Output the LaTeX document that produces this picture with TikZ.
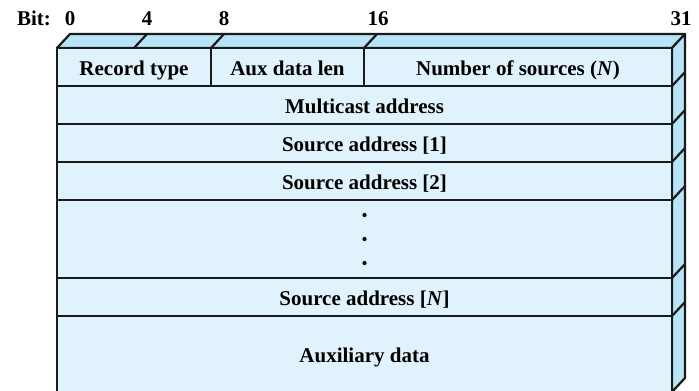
\documentclass[tikz,border=0pt]{standalone}
\usepackage{fontspec}
\setmainfont{Liberation Serif}
\usepackage{tikz}
\usetikzlibrary{positioning}
\definecolor{pFront}{HTML}{E0F2FC}
\definecolor{pSide}{HTML}{B8E4F8}
\definecolor{pLine}{HTML}{1A1A1A}
\tikzset{
 field/.style={draw=pLine, fill=pFront, line width=2.2pt, inner sep=0pt, outer sep=0pt, anchor=north west, text height=16pt, text depth=0pt, font=\fontsize{21}{25}\selectfont\bfseries, text=black},
 bitlbl/.style={font=\fontsize{21}{25}\selectfont\bfseries, inner sep=0pt, text height=14pt, text depth=0pt, text=black},
 face/.style={draw=pLine, fill=pSide, line width=2.2pt, line join=round}
}
\newcommand{\pfield}[6]{%
 \node[field, minimum width=#3pt, minimum height=#4pt] (#5) at (#1,#2) {#6};}

\begin{document}
\begin{tikzpicture}[x=1pt, y=-1pt]
\useasboundingbox (0,0) rectangle (699,391);
% bit ruler
\node[bitlbl] (bitword) at (34,18) {Bit:};
\foreach \lx/\t [count=\i] in {70/0,147/4,224/8,378/16,681/31}
 \node[bitlbl] (bit\i) at (\lx,18) {\t};
% top and side faces
\draw[face] (57,48) -- (70,34) -- (685,34) -- (672,48) -- cycle;
\draw[face] (672,48) -- (685,34) -- (685,378) -- (672,392) -- cycle;
\foreach \bx in {134,211,364}
 \draw[pLine, line width=2.2pt] (\bx,48) -- (\bx+13,34);
% fields
\pfield{57}{48}{154}{38}{rtype}{Record type}
\pfield{211}{48}{153}{38}{auxlen}{Aux data len}
\pfield{364}{48}{308}{38}{nsrc}{Number of sources (\textit{N})}
\pfield{57}{86}{615}{38}{mcast}{Multicast address}
\pfield{57}{124}{615}{38}{src1}{Source address [1]}
\pfield{57}{162}{615}{38}{src2}{Source address [2]}
\pfield{57}{200}{615}{78}{srcdots}{}
\pfield{57}{278}{615}{38}{srcN}{Source address [\textit{N}]}
\pfield{57}{316}{615}{76}{auxdata}{Auxiliary data}
\foreach \dy in {-24,0,24}
 \fill[black] ([yshift=\dy pt]srcdots.center) circle (2.1pt);
% side ticks
\foreach \ry in {86,124,162,200,278,316}
 \draw[pLine, line width=2.2pt] (672,\ry) -- (685,\ry-14);
\end{tikzpicture}
\end{document}
